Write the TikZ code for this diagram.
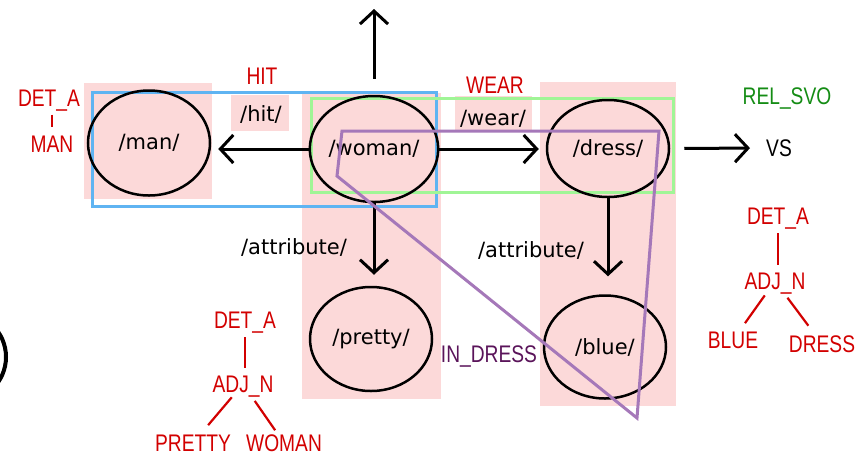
\documentclass[tikz,border=0pt]{standalone}
\usepackage{fontspec}
\setmainfont{DejaVu Sans}
\newfontfamily\redf[FakeStretch=0.8]{Liberation Sans}
\usetikzlibrary{arrows.meta,shapes.geometric}
\definecolor{pinkbg}{RGB}{252,217,217}
\definecolor{bluebox}{RGB}{95,180,242}
\definecolor{greenbox}{RGB}{160,245,150}
\definecolor{purpline}{RGB}{165,120,185}
\definecolor{redtxt}{RGB}{210,0,0}
\definecolor{greentxt}{RGB}{20,140,20}
\definecolor{purtxt}{RGB}{90,20,90}
\tikzset{
  conc/.style={draw=black, line width=2.5pt, ellipse, inner sep=0pt,
    font=\fontsize{21}{21}\selectfont},
  blab/.style={inner sep=0pt, font=\fontsize{21}{21}\selectfont},
  rlab/.style={inner sep=0pt, text height=17pt, text depth=0pt, text=redtxt,
    font=\redf\fontsize{24}{24}\selectfont},
  rline/.style={draw=redtxt, line width=2.2pt},
  rel/.style={draw=black, line width=3pt, -{Straight Barb[length=13pt,width=28pt]}},
  pinkrect/.style={fill=pinkbg, draw=none},
}
\begin{document}
\begin{tikzpicture}[x=1pt,y=-1pt]
\useasboundingbox (0,0) rectangle (860,456);
% pink backgrounds
\fill[pinkbg] (84,83) rectangle (212,199);
\fill[pinkbg] (302,93) rectangle (441,399);
\fill[pinkbg] (540,82) rectangle (676,406);
\fill[pinkbg] (231,95) rectangle (289,131);
\fill[pinkbg] (455,96) rectangle (532,131);
% frames
\draw[bluebox, line width=3pt] (92,92) rectangle (436,206);
\draw[greenbox, line width=3pt] (311,98) rectangle (673,192);
% partial circle at left edge
\draw[line width=4pt] (-40,357) ellipse [x radius=46, y radius=45];
% concept nodes
\node[conc, minimum width=122pt, minimum height=105pt] (man) at (149,143) {/man/};
\node[conc, minimum width=122pt, minimum height=106pt] (woman) at (374,149) {/woman/};
\node[conc, minimum width=122pt, minimum height=97pt] (dress) at (608,148.5) {/dress/};
\node[conc, minimum width=122pt, minimum height=104pt] (pretty) at (371,339) {/pretty/};
\node[conc, minimum width=122pt, minimum height=103pt] (blue) at (605,347) {/blue/};
% labels
\node[blab] (hit) at (261,114) {/hit/};
\node[blab] (wear) at (493,119) {/wear/};
\node[blab] (attr1) at (294,247) {/attribute/};
\node[blab] (attr2) at (531,250) {/attribute/};
\node[rlab, text=black] (vs) at (779,148) {VS};
\coordinate (up) at (374,9);
% relations
\draw[rel, shorten >=7pt] (woman.west) -- (man.east |- woman.west);
\draw[rel, shorten >=7pt] (woman.east) -- (dress.west |- woman.east);
\draw[rel, shorten >=11pt] (woman.south) -- (pretty.north -| woman.south);
\draw[rel, shorten >=18pt] (dress.south) -- (blue.north -| dress.south);
\draw[rel, shorten <=14pt, shorten >=16pt] (dress.east) -- (vs.west);
\draw[rel, shorten <=16pt] (woman.north) -- (up);
% purple region
\draw[purpline, line width=3pt, line join=miter] (342,131) -- (659,131) -- (637,418) -- (337,176) -- cycle;
% red / green labels
\node[rlab] (hitr) at (262,76) {HIT};
\node[rlab] (wearr) at (495,85) {WEAR};
\node[rlab, text=greentxt] (relsvo) at (787,96) {REL\_SVO};
\node[rlab, text=purtxt] (indress) at (489,354) {IN\_DRESS};
% left small tree
\node[rlab] (mdet) at (49,98) {DET\_A};
\node[rlab] (mman) at (52,143.5) {MAN};
\draw[rline, shorten <=8pt, shorten >=8pt] (mdet.south -| mman.north) -- (mman.north);
% bottom tree
\node[rlab] (ldet) at (245,320) {DET\_A};
\node[rlab] (ladj) at (243,384) {ADJ\_N};
\node[rlab] (lpretty) at (193,443) {PRETTY};
\node[rlab] (lwoman) at (284,443) {WOMAN};
\draw[rline, shorten <=8.5pt, shorten >=7.5pt] (ldet.south) -- (ldet.south |- ladj.north);
\draw[rline, shorten <=6pt, shorten >=12pt] (ladj) -- (lpretty);
\draw[rline, shorten <=10pt, shorten >=5pt] (ladj) -- (lwoman);
% right tree
\node[rlab] (rdet) at (778,216) {DET\_A};
\node[rlab] (radj) at (775,281) {ADJ\_N};
\node[rlab] (rblue) at (733,340) {BLUE};
\node[rlab] (rdress) at (822,344) {DRESS};
\draw[rline, shorten <=8.5pt, shorten >=7.5pt] (rdet.south) -- (rdet.south |- radj.north);
\draw[rline, shorten <=7pt, shorten >=10pt] (radj) -- (rblue);
\draw[rline, shorten <=10pt, shorten >=12pt] (radj) -- (rdress);
\end{tikzpicture}
\end{document}
